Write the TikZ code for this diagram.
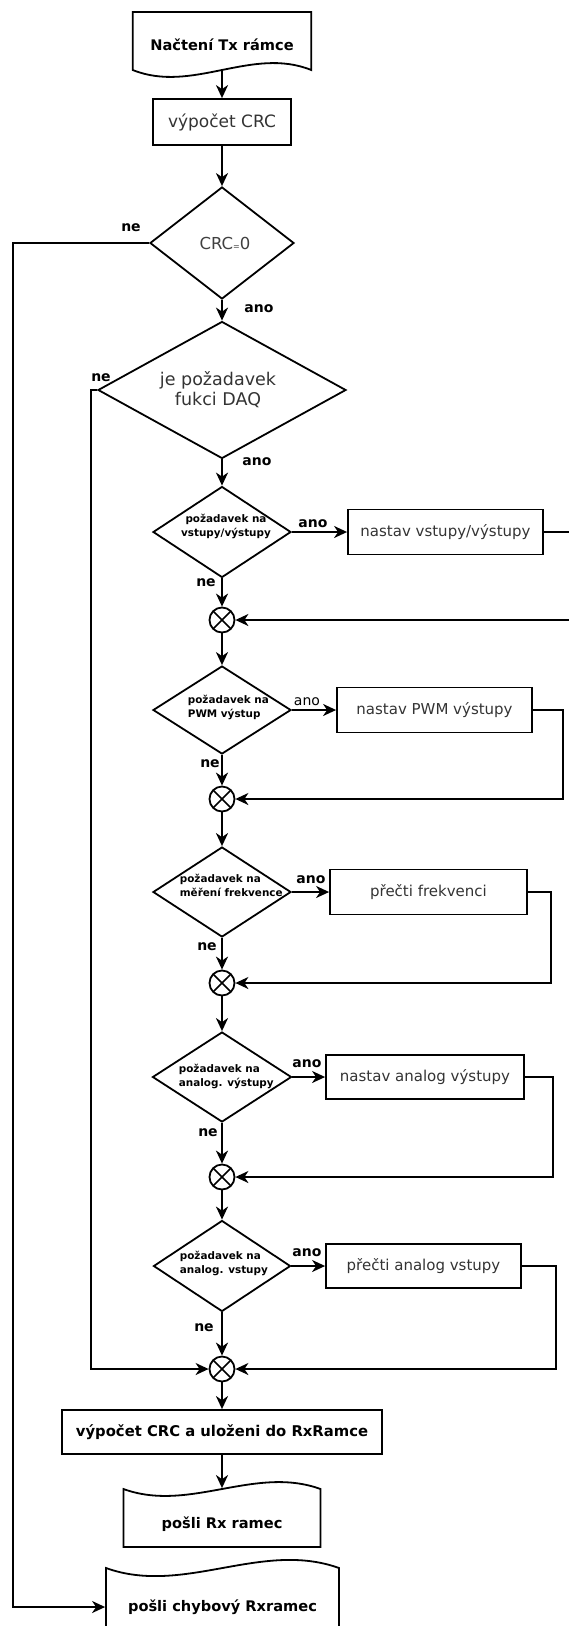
\documentclass[tikz,border=0pt]{standalone}
\usepackage{fontspec}
\setmainfont{DejaVu Sans}
\usetikzlibrary{shapes.geometric,arrows.meta,calc}

\begin{document}
\begin{tikzpicture}[x=1pt,y=-1pt,
  line width=1.8pt,
  arr/.style={-{Stealth[length=13pt,width=12pt,inset=4pt]}},
  procbox/.style={draw, rectangle, inner sep=0pt, minimum width=195pt, minimum height=45pt,
    font=\fontsize{15}{18}\selectfont, text=black!80},
  boldbox/.style={draw, rectangle, inner sep=0pt, font=\bfseries\fontsize{14.8}{18}\selectfont},
  docnode/.style={draw=none, rectangle, inner sep=0pt, font=\bfseries\fontsize{14.6}{18}\selectfont},
  decision/.style={draw, diamond, inner sep=0pt},
  qtext/.style={font=\bfseries\fontsize{10.4}{14}\selectfont, align=left, anchor=west, inner sep=0pt},
  yes/.style={font=\bfseries\fontsize{14}{16}\selectfont, inner sep=0pt},
  xcirc/.style={draw, circle, inner sep=0pt, minimum size=25pt,
    path picture={\draw[line width=1.6pt]
      (path picture bounding box.north west) -- (path picture bounding box.south east)
      (path picture bounding box.north east) -- (path picture bounding box.south west);}},
]
\useasboundingbox (0,0) rectangle (568,1626);

% input frame document (wavy bottom)
\draw (132.75,70) -- (132.75,12) -- (311.25,12) -- (311.25,70)
  .. controls (251.75,46) and (192.25,94) .. (132.75,70) -- cycle;
\node[docnode, minimum width=178.5pt, minimum height=50pt] (doc0) at (222,45) {Načtení Tx rámce};

\node[procbox, minimum width=138pt, minimum height=46pt, font=\fontsize{17}{20}\selectfont] (b1) at (222,122) {výpočet CRC};

% CRC check
\node[decision, minimum width=144pt, minimum height=112pt] (d1) at (222,243) {};
\node[font=\fontsize{16.5}{20}\selectfont, text=black!75, inner sep=0pt] (d1t) at (225,243)
  {CRC{\fontsize{8}{8}\selectfont =}0};

% DAQ request
\node[decision, minimum width=248pt, minimum height=137pt] (d2) at (222,390) {};
\node[align=center, font=\fontsize{17.5}{20}\selectfont, text=black!80, inner sep=0pt] (d2t) at (218,390)
  {je požadavek\\fukci DAQ};

% inputs/outputs
\node[decision, minimum width=138pt, minimum height=91pt] (d3) at (222,532) {};
\node[qtext, align=center, anchor=center] (d3t) at (226,526.5) {požadavek na\\vstupy/výstupy};
\node[procbox] (b3) at (445.5,532) {nastav vstupy/výstupy};
\node[xcirc] (c1) at (222,620) {};

% PWM
\node[decision, minimum width=138pt, minimum height=88pt] (d4) at (222,710) {};
\node[qtext] (d4t) at (187,707.5) {požadavek na\\PWM výstup};
\node[procbox] (b4) at (434.5,710) {nastav PWM výstupy};
\node[xcirc] (c2) at (222,799) {};

% frequency
\node[decision, minimum width=138pt, minimum height=90pt] (d5) at (222,892) {};
\node[qtext] (d5t) at (179,885) {požadavek na\\měření frekvence};
\node[procbox, minimum width=197pt] (b5) at (428.5,892) {přečti frekvenci};
\node[xcirc] (c3) at (222,983) {};

% analog outputs
\node[decision, minimum width=139pt, minimum height=90pt] (d6) at (222,1077) {};
\node[qtext] (d6t) at (178,1076.5) {požadavek na\\analog. výstupy};
\node[procbox, minimum width=198pt, minimum height=44pt] (b6) at (425,1077) {nastav analog výstupy};
\node[xcirc] (c4) at (222,1177) {};

% analog inputs
\node[decision, minimum width=137pt, minimum height=91pt] (d7) at (222,1266) {};
\node[qtext] (d7t) at (179,1263.5) {požadavek na\\analog. vstupy};
\node[procbox, minimum height=44pt] (b7) at (423.5,1266) {přečti analog vstupy};
\node[xcirc] (c5) at (222,1369) {};

% response
\node[boldbox, minimum width=320pt, minimum height=44pt] (b8) at (222,1432) {výpočet CRC a uloženi do RxRamce};

\draw (123.5,1547) -- (123.5,1489)
  .. controls (189.2,1513) and (254.8,1465) .. (320.5,1489) -- (320.5,1547) -- cycle;
\node[docnode, minimum width=197pt, minimum height=70pt] (rx) at (222,1524) {pošli Rx ramec};

\draw (106,1632) -- (106,1568)
  .. controls (183.7,1596) and (261.3,1540) .. (339,1568) -- (339,1632);
\node[docnode, minimum width=233pt, minimum height=78pt] (err) at (222.5,1607) {pošli chybový Rxramec};

% routing points
\coordinate (leftA) at (12.7,243);
\coordinate (leftB) at (90.6,390);
\coordinate (r3) at (580,0);
\coordinate (r4) at (563,0);
\coordinate (r5) at (551,0);
\coordinate (r6) at (553,0);
\coordinate (r7) at (556,0);

% main flow
\draw[arr] (doc0.south) -- (b1.north);
\draw[arr] (b1.south) -- (d1.north);
\draw[arr] (d1.south) -- (d2.north);
\draw[arr] (d2.south) -- (d3.north);
\draw[arr] (d3.south) -- (c1.north);
\draw[arr] (c1.south) -- (d4.north);
\draw[arr] (d4.south) -- (c2.north);
\draw[arr] (c2.south) -- (d5.north);
\draw[arr] (d5.south) -- (c3.north);
\draw[arr] (c3.south) -- (d6.north);
\draw[arr] (d6.south) -- (c4.north);
\draw[arr] (c4.south) -- (d7.north);
\draw[arr] (d7.south) -- (c5.north);
\draw[arr] (c5.south) -- (b8.north);
\draw[arr] (b8.south) -- (rx.north);

% yes branches
\draw[arr] (d3.east) -- (b3.west);
\draw[arr] (d4.east) -- (b4.west);
\draw[arr] (d5.east) -- (b5.west);
\draw[arr] (d6.east) -- (b6.west);
\draw[arr] (d7.east) -- (b7.west);

% returns to the junctions
\draw[arr] (b3.east) -- (b3.east -| r3) |- (c1.east);
\draw[arr] (b4.east) -- (b4.east -| r4) |- (c2.east);
\draw[arr] (b5.east) -- (b5.east -| r5) |- (c3.east);
\draw[arr] (b6.east) -- (b6.east -| r6) |- (c4.east);
\draw[arr] (b7.east) -- (b7.east -| r7) |- (c5.east);

% no branches on the left
\draw[arr] (d1.west) -- (leftA) |- (err.west);
\draw[arr] (d2.west) -- (leftB) |- (c5.west);

% branch labels
\node[yes] (l1) at (131,228) {ne};
\node[yes] (l2) at (259,309) {ano};
\node[yes] (l3) at (101,378) {ne};
\node[yes] (l4) at (257,462) {ano};
\node[yes] (l5) at (313,524) {ano};
\node[yes] (l6) at (206,583) {ne};
\node[yes, font=\fontsize{14}{16}\selectfont] (l7) at (307,702) {ano};
\node[yes] (l8) at (210,764) {ne};
\node[yes] (l9) at (311,880) {ano};
\node[yes] (l10) at (207,947) {ne};
\node[yes] (l11) at (307,1064) {ano};
\node[yes] (l12) at (208,1133) {ne};
\node[yes] (l13) at (307,1253) {ano};
\node[yes] (l14) at (204,1328) {ne};
\end{tikzpicture}
\end{document}
